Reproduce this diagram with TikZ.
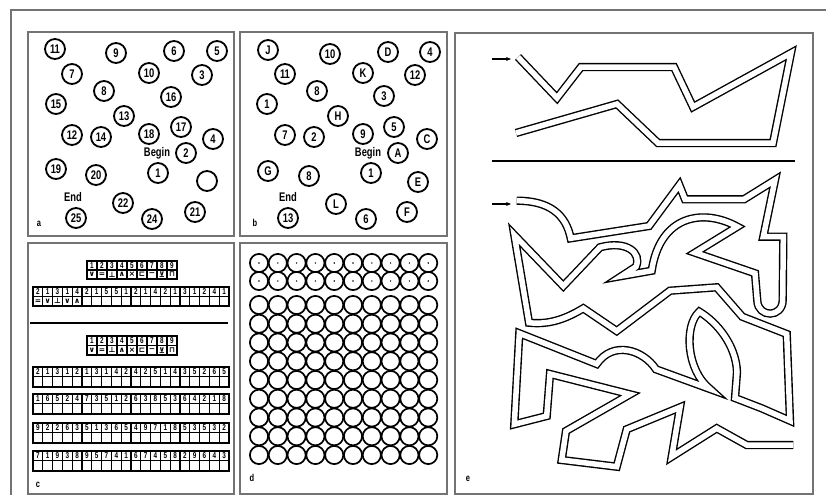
\documentclass[tikz,border=0pt]{standalone}
\usepackage{fontspec}
\setmainfont{Liberation Sans}
\newfontfamily\condf[FakeStretch=0.75]{Liberation Sans}
\newfontfamily\symf{DejaVu Sans}
\usetikzlibrary{arrows.meta}
\tikzset{
  frame/.style={draw=black!55, line width=1.4pt},
  numc/.style={circle, draw, line width=1.8pt, minimum size=20pt, inner sep=0pt, font=\condf\bfseries\fontsize{12.5}{13}\selectfont},
  plain/.style={inner sep=0pt, font=\condf\bfseries\fontsize{12.5}{13}\selectfont},
  plab/.style={inner sep=0pt, font=\condf\bfseries\fontsize{10}{10}\selectfont},
  dcirc/.style={draw, line width=1.7pt},
  corridor/.style={draw, double=white, double distance=5.5pt, line width=1.4pt, line join=miter, miter limit=12},
  tabout/.style={draw, line width=1.8pt},
  tabin/.style={draw, line width=1.1pt},
  dig/.style={inner sep=0pt, font=\condf\bfseries\fontsize{8.5}{8.5}\selectfont},
  sym/.style={inner sep=0pt, font=\symf\bfseries\fontsize{7.5}{7.5}\selectfont},
  entry/.style={-{Stealth[length=5pt,width=4pt]}, line width=1.2pt}
}
% #1 x0, #2 y0, #3 ncols-1, #4 cell width, #5 row height, #6 top list, #7 bottom list
\newcommand\dsrow[7]{%
  \foreach \k in {1,...,#3} {\draw[tabin] ({#1+\k*#4},#2) -- ++(0,2*#5);}
  \draw[tabin] (#1,#2+#5) -- ++({(#3+1)*#4},0);
  \draw[tabout] (#1,#2) rectangle ++({(#3+1)*#4},2*#5);
  \foreach \t [count=\i] in {#6} {\node[dig] at ({#1+(\i-0.5)*#4},{#2+0.5*#5}) {\t};}
  \foreach \t [count=\i] in {#7} {\node[sym] at ({#1+(\i-0.5)*#4},{#2+1.5*#5}) {\t};}
}
\begin{document}
\begin{tikzpicture}[x=1pt,y=-1pt]
\useasboundingbox (0,0) rectangle (826,495);
% outer frame
\draw[frame] (11,495) -- (11,10) -- (826,10);
% panels
\draw[frame] (28,32) rectangle (234,236);
\draw[frame] (240,32) rectangle (447,236);
\draw[frame] (28,243) rectangle (234,494);
\draw[frame] (240,243) rectangle (447,494);
\draw[frame] (455,33) rectangle (813,494);

% ---------- panel a ----------
\node[numc] (a11) at (55,49) {11};
\node[numc] (a9) at (116,53) {9};
\node[numc] (a6) at (174,51) {6};
\node[numc] (a5) at (217,51) {5};
\node[numc] (a7) at (72,74) {7};
\node[numc] (a10) at (149,73) {10};
\node[numc] (a3) at (202,75) {3};
\node[numc] (a8) at (104,91) {8};
\node[numc] (a16) at (171,97) {16};
\node[numc] (a15) at (56,104) {15};
\node[numc] (a13) at (124,116) {13};
\node[numc] (a12) at (72,135) {12};
\node[numc] (a14) at (101,137) {14};
\node[numc] (a18) at (149,134) {18};
\node[numc] (a17) at (181,127) {17};
\node[numc] (a4) at (213,139) {4};
\node[plain] (abeg) at (157,153) {Begin};
\node[numc] (a2) at (186,153) {2};
\node[numc] (a19) at (56,169) {19};
\node[numc] (a20) at (96,175) {20};
\node[numc] (a1) at (158,173) {1};
\node[numc] (ablank) at (207,181) {};
\node[plain] (aend) at (73,197) {End};
\node[numc] (a25) at (76,218) {25};
\node[numc] (a22) at (123,203) {22};
\node[numc] (a24) at (152,219) {24};
\node[numc] (a21) at (195,212) {21};
\node[plab] (alab) at (39,224) {a};

% ---------- panel b ----------
\node[numc] (bJ) at (268,50) {J};
\node[numc] (b10) at (330,54) {10};
\node[numc] (bD) at (388,52) {D};
\node[numc] (b4) at (430,52) {4};
\node[numc] (b11) at (285,74) {11};
\node[numc] (bK) at (363,73) {K};
\node[numc] (b12) at (415,75) {12};
\node[numc] (b8a) at (317,91) {8};
\node[numc] (b3) at (384,96) {3};
\node[numc] (b1a) at (267,104) {1};
\node[numc] (bH) at (338,116) {H};
\node[numc] (b7) at (285,135) {7};
\node[numc] (b2) at (314,137) {2};
\node[numc] (b9) at (363,134) {9};
\node[numc] (b5) at (394,127) {5};
\node[numc] (bC) at (427,139) {C};
\node[plain] (bbeg) at (368,153) {Begin};
\node[numc] (bA) at (398,153) {A};
\node[numc] (bG) at (268,171) {G};
\node[numc] (b8b) at (309,176) {8};
\node[numc] (b1b) at (371,173) {1};
\node[numc] (bE) at (418,182) {E};
\node[plain] (bend) at (288,197) {End};
\node[numc] (b13) at (288,218) {13};
\node[numc] (bL) at (336,204) {L};
\node[numc] (b6) at (366,219) {6};
\node[numc] (bF) at (407,212) {F};
\node[plab] (blab) at (255,223) {b};

% ---------- panel c ----------
\dsrow{87}{261}{8}{10}{9}{1,2,3,4,5,6,7,8,9}{∨,=,⊥,∧,×,⊏,−,⊻,⊓}
\dsrow{33}{287}{19}{9.8}{9.5}{2,1,3,1,4,2,1,5,5,1,2,1,4,2,1,3,1,2,4,1}{=,∨,⊥,∨,∧}
\draw[line width=1.9pt] (30,323) -- (228,323);
\dsrow{87}{336}{8}{10}{9.5}{1,2,3,4,5,6,7,8,9}{∨,=,⊥,∧,×,⊏,−,⊻,⊓}
\dsrow{33}{367}{19}{9.8}{9.8}{2,1,3,1,2,1,3,1,4,2,4,2,5,1,4,3,5,2,6,5}{}
\dsrow{33}{394}{19}{9.8}{9.8}{1,6,5,2,4,7,3,5,1,2,6,3,8,5,3,6,4,2,1,8}{}
\dsrow{33}{423}{19}{9.8}{9.8}{9,2,2,6,3,5,1,3,6,5,4,9,7,1,8,5,3,5,3,2}{}
\dsrow{33}{451}{19}{9.8}{9.8}{7,1,9,3,8,9,5,7,4,1,6,7,4,5,8,2,9,6,4,3}{}
\node[plab] (clab) at (38,485) {c};

% ---------- panel d ----------
\foreach \i in {0,...,9} {
  \foreach \j in {0,1} {
    \draw[dcirc] ({259+18.8*\i},{263+18*\j}) circle (9.1);
    \fill ({259+18.8*\i},{263+18*\j}) circle (0.8);
  }
  \foreach \j in {0,...,8} {
    \draw[dcirc] ({259+18.8*\i},{305+18.75*\j}) circle (9.1);
  }
}
\node[plab] (dlab) at (252,478) {d};

% ---------- panel e ----------
\coordinate (e1s) at (492,59); \coordinate (e1e) at (511,59);
\draw[entry] (e1s) -- (e1e);
\draw[corridor] (518,57) -- (557,98) -- (581,67) -- (674,67) -- (693,107) -- (791,53)
  -- (773,143) -- (658,143) -- (617,104) -- (516,133);
\draw[line width=1.7pt] (492,161) -- (795,161);

\coordinate (e2s) at (492,204); \coordinate (e2e) at (511,204);
\draw[entry] (e2s) -- (e2e);
\draw[corridor] (516.7,200.7) .. controls (550,200.7) and (566,215) .. (570.7,238.3)
  -- (649,226) -- (679.3,185) -- (685,199.3) -- (744,199.3) -- (775,180)
  -- (763.3,236.7) -- (783.3,236.7) -- (782.7,300)
  .. controls (782.7,318) and (758,318) .. (757.3,300.7)
  -- (755,273.3) -- (695,252.7) -- (737.3,226.7)
  .. controls (703.3,208) and (660,215) .. (651.7,270.7)
  -- (621.7,276) -- (636,266.7)
  .. controls (642,253) and (626.7,240) .. (600,247.3)
  -- (563.3,286) -- (514.3,235) -- (529,322.7)
  .. controls (550,325) and (566.7,318.3) .. (583.3,308.3)
  -- (616.7,331) -- (670,290.7) -- (716.7,287.3) -- (742.3,316.7)
  -- (786.7,334) -- (790,420.7) -- (761.7,408.3) -- (735,398) -- (737,372)
  .. controls (736,345) and (716.7,322) .. (699.3,311.7)
  .. controls (684,325) and (686,370) .. (710,389)
  -- (656,369.3)
  .. controls (643.3,350) and (613.3,340) .. (596.7,364)
  -- (519.3,333.3) -- (514.3,424.3) -- (546.7,416) -- (550,374) -- (630,394.3)
  -- (566,431) -- (561.7,460) -- (616.7,466.7) -- (626.7,429.3) -- (680,407.3)
  -- (671.7,456.7) -- (716.7,428.3) -- (746.7,445) -- (793.3,445);
\node[plab] (elab) at (468,479) {e};
\end{tikzpicture}
\end{document}
